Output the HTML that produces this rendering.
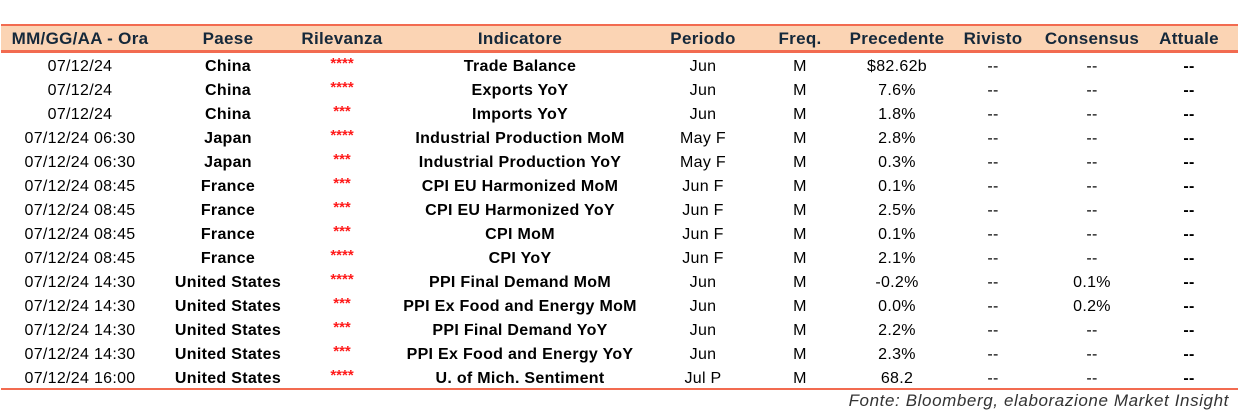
<!DOCTYPE html>
<html><head><meta charset="utf-8"><style>
body{margin:0;width:1247px;height:415px;background:#fff;font-family:"Liberation Sans",sans-serif;position:relative;overflow:hidden}
.line{position:absolute;left:1px;width:1237px;background:#F26B50}
.hdr{position:absolute;left:1px;top:26px;width:1237px;height:24px;background:#FBD4B4}
.c{position:absolute;transform:translateX(-50%);white-space:nowrap;font-size:16px;line-height:24px;color:#000;letter-spacing:0.3px}
.h{font-weight:bold;color:#15283a;top:27px;font-size:17px}
.b{font-weight:bold}
.s{color:#ff1a1a;font-weight:bold;font-size:15px;line-height:18px;letter-spacing:0}
.foot{position:absolute;right:18px;top:391px;font-style:italic;font-size:17px;color:#333;letter-spacing:0.6px}
</style></head><body>
<div class="line" style="top:24px;height:3px"></div>
<div class="hdr"></div>
<div class="line" style="top:50px;height:3px"></div>
<div class="line" style="top:388px;height:2px"></div>
<div id="t"></div>
<div class="foot">Fonte: Bloomberg, elaborazione Market Insight</div>
<script>
const cols=[80,228,342,520,703,800,897,993,1092,1189];
const heads=["MM/GG/AA - Ora","Paese","Rilevanza","Indicatore","Periodo","Freq.","Precedente","Rivisto","Consensus","Attuale"];
const rows=[
["07/12/24","China","****","Trade Balance","Jun","M","$82.62b","--","--","--"],
["07/12/24","China","****","Exports YoY","Jun","M","7.6%","--","--","--"],
["07/12/24","China","***","Imports YoY","Jun","M","1.8%","--","--","--"],
["07/12/24 06:30","Japan","****","Industrial Production MoM","May F","M","2.8%","--","--","--"],
["07/12/24 06:30","Japan","***","Industrial Production YoY","May F","M","0.3%","--","--","--"],
["07/12/24 08:45","France","***","CPI EU Harmonized MoM","Jun F","M","0.1%","--","--","--"],
["07/12/24 08:45","France","***","CPI EU Harmonized YoY","Jun F","M","2.5%","--","--","--"],
["07/12/24 08:45","France","***","CPI MoM","Jun F","M","0.1%","--","--","--"],
["07/12/24 08:45","France","****","CPI YoY","Jun F","M","2.1%","--","--","--"],
["07/12/24 14:30","United States","****","PPI Final Demand MoM","Jun","M","-0.2%","--","0.1%","--"],
["07/12/24 14:30","United States","***","PPI Ex Food and Energy MoM","Jun","M","0.0%","--","0.2%","--"],
["07/12/24 14:30","United States","***","PPI Final Demand YoY","Jun","M","2.2%","--","--","--"],
["07/12/24 14:30","United States","***","PPI Ex Food and Energy YoY","Jun","M","2.3%","--","--","--"],
["07/12/24 16:00","United States","****","U. of Mich. Sentiment","Jul P","M","68.2","--","--","--"]];
const t=document.getElementById('t');
heads.forEach((h,i)=>{const d=document.createElement('div');d.className='c h';d.style.left=cols[i]+'px';d.textContent=h;

t.appendChild(d);});
rows.forEach((r,ri)=>{r.forEach((v,i)=>{const d=document.createElement('div');
let cls='c';if(i==1||i==3||i==9)cls+=' b';if(i==2)cls+=' s';d.className=cls;
d.style.left=cols[i]+'px';d.style.top=(55+ri*24)+'px';d.textContent=v;

t.appendChild(d);});});
</script>
</body></html>
